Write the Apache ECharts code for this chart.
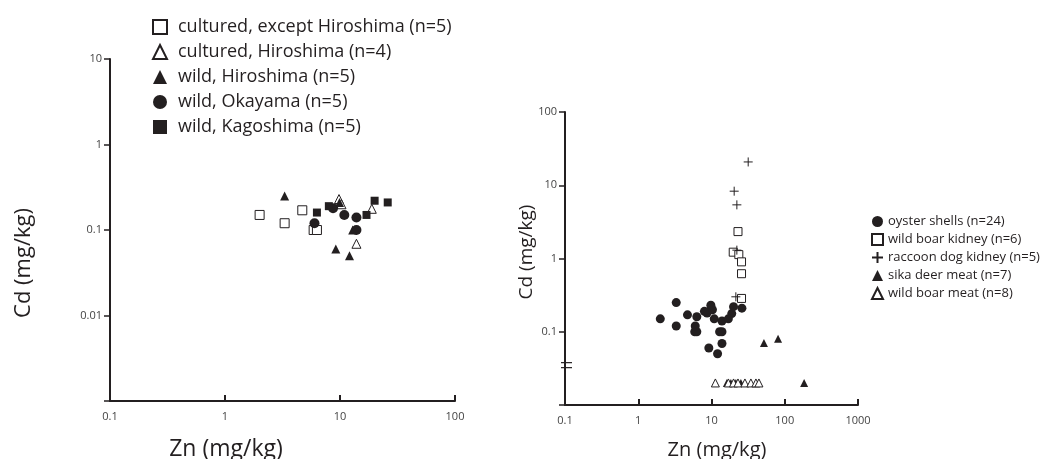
<!DOCTYPE html>
<html lang="en">
  <head>
    <meta charset="UTF-8" />
    <title>Cd vs Zn</title>
    <script src="https://cdn.jsdelivr.net/npm/echarts@6/dist/echarts.min.js"></script>
  </head>
  <body style="margin: 0; background: #fff">
    <div id="chart" style="width: 1046px; height: 459px"></div>

    <script type="text/javascript">
      // left panel: oyster shells by origin, [Zn, Cd] in mg/kg
      const culturedExceptHiroshima = [[2.0, 0.15], [3.3, 0.12], [4.7, 0.17], [5.9, 0.1], [6.3, 0.1]];
      const culturedHiroshima = [[9.8, 0.23], [18.9, 0.177], [13.9, 0.069], [10.3, 0.2]];
      const wildHiroshima = [[3.3, 0.25], [9.9, 0.21], [9.2, 0.06], [12.1, 0.05], [12.9, 0.1]];
      const wildOkayama = [[6.0, 0.12], [8.7, 0.18], [10.9, 0.15], [13.9, 0.14], [13.9, 0.1]];
      const wildKagoshima = [[6.3, 0.16], [8.0, 0.19], [17, 0.15], [20, 0.22], [26, 0.21]];

      // right panel: animal tissues, [Zn, Cd] in mg/kg (0.02 = below detection)
      const oysterShells = [].concat(culturedExceptHiroshima, culturedHiroshima, wildHiroshima, wildOkayama, wildKagoshima);
      const boarKidney = [[23, 2.33], [19.8, 1.22], [23.6, 1.13], [25.7, 0.9], [25.7, 0.62], [25.7, 0.285]];
      const raccoonKidney = [[31.7, 20.8], [20.4, 8.3], [22.2, 5.4], [22.2, 1.3], [21.5, 0.3]];
      const sikaMeat = [[52, 0.07], [81, 0.08], [184, 0.02], [16.2, 0.02], [18.4, 0.02], [21.5, 0.02], [25.2, 0.02]];
      const boarMeat = [[11.3, 0.02], [17, 0.02], [20, 0.02], [23, 0.02], [28.6, 0.02], [34.5, 0.02], [40.4, 0.02], [44.4, 0.02]];

      const leftNames = [
        "cultured, except Hiroshima (n=5)",
        "cultured, Hiroshima (n=4)",
        "wild, Hiroshima (n=5)",
        "wild, Okayama (n=5)",
        "wild, Kagoshima (n=5)",
      ];
      const rightNames = [
        "oyster shells (n=24)",
        "wild boar kidney (n=6)",
        "raccoon dog kidney (n=5)",
        "sika deer meat (n=7)",
        "wild boar meat (n=8)",
      ];

      const ink = "#231f20";
      const font = "'Open Sans', sans-serif";
      const plus = "path://M5 0V10M0 5H10";

      const chart = echarts.init(document.getElementById("chart"));

      function logLabel(min) {
        return (v) => {
          if (Math.abs(Math.log10(v) - Math.log10(min)) < 1e-6) return "";
          return String(parseFloat(v.toPrecision(3)));
        };
      }

      function xAxis(grid, min, max) {
        return {
          type: "log", logBase: 10, gridIndex: grid, min: min, max: max,
          axisLine: { lineStyle: { color: ink, width: 2 } },
          axisTick: { inside: true, length: 6, lineStyle: { color: ink, width: 2 } },
          axisLabel: { color: "#444", fontSize: 11, fontFamily: font, margin: 10,
            formatter: (v) => String(parseFloat(v.toPrecision(3))) },
          splitLine: { show: false },
        };
      }

      function yAxis(grid, min, max) {
        return {
          type: "log", logBase: 10, gridIndex: grid, min: min, max: max,
          axisLine: { lineStyle: { color: ink, width: 2 } },
          axisTick: { length: 6, lineStyle: { color: ink, width: 1.5 } },
          axisLabel: { color: "#444", fontSize: 11, fontFamily: font, margin: 8, formatter: logLabel(min) },
          splitLine: { show: false },
        };
      }

      function scatter(name, data, symbol, size, open, axis) {
        return {
          name: name, type: "scatter", data: data,
          xAxisIndex: axis, yAxisIndex: axis,
          symbol: symbol, symbolSize: size,
          itemStyle: open
            ? { color: symbol === plus ? "transparent" : "#fff", borderColor: ink, borderWidth: 1, opacity: 1 }
            : { color: ink, opacity: 1 },
          emphasis: { disabled: true },
        };
      }

      chart.setOption({
        animation: false,
        grid: [
          { left: 110, top: 59, width: 345, height: 342 },
          { left: 565, top: 112, width: 293, height: 293 },
        ],
        xAxis: [xAxis(0, 0.1, 100), xAxis(1, 0.1, 1000)],
        yAxis: [yAxis(0, 0.001, 10), yAxis(1, 0.01, 100)],
        legend: [
          {
            data: leftNames, orient: "vertical", left: 147, top: 11,
            itemWidth: 14, itemHeight: 14, itemGap: 3, selectedMode: false,
            textStyle: { color: ink, fontSize: 18, lineHeight: 22, fontFamily: font, padding: [0, 0, 0, 6] },
          },
          {
            data: rightNames, orient: "vertical", left: 866, top: 209,
            itemWidth: 11, itemHeight: 11, itemGap: 3, selectedMode: false,
            textStyle: { color: ink, fontSize: 13, lineHeight: 15, fontFamily: font },
          },
        ],
        series: [
          scatter(leftNames[0], culturedExceptHiroshima, "rect", 9, true, 0),
          scatter(leftNames[1], culturedHiroshima, "triangle", 9, true, 0),
          scatter(leftNames[2], wildHiroshima, "triangle", 9, false, 0),
          scatter(leftNames[3], wildOkayama, "circle", 10, false, 0),
          scatter(leftNames[4], wildKagoshima, "rect", 8, false, 0),
          scatter(rightNames[0], oysterShells, "circle", 9, false, 1),
          scatter(rightNames[1], boarKidney, "rect", 8, true, 1),
          scatter(rightNames[2], raccoonKidney, plus, 9, true, 1),
          scatter(rightNames[3], sikaMeat, "triangle", 8, false, 1),
          scatter(rightNames[4], boarMeat, "triangle", 8, true, 1),
        ],
      });

      // axis titles and the break marks on the right y axis
      const brk = chart.convertToPixel({ gridIndex: 1 }, [0.1, 0.035]);
      chart.setOption({
        graphic: [
          { type: "text", x: 226, y: 449, style: { text: "Zn (mg/kg)", font: "23px " + font, fill: ink, align: "center", verticalAlign: "middle" } },
          { type: "text", x: 24, y: 263, rotation: Math.PI / 2, style: { text: "Cd (mg/kg)", font: "22px " + font, fill: ink, align: "center", verticalAlign: "middle" } },
          { type: "text", x: 717, y: 450, style: { text: "Zn (mg/kg)", font: "20px " + font, fill: ink, align: "center", verticalAlign: "middle" } },
          { type: "text", x: 527, y: 252, rotation: Math.PI / 2, style: { text: "Cd (mg/kg)", font: "19px " + font, fill: ink, align: "center", verticalAlign: "middle" } },
          { type: "line", shape: { x1: brk[0] - 4, y1: brk[1] - 2.5, x2: brk[0] + 7, y2: brk[1] - 2.5 }, style: { stroke: ink, lineWidth: 1.2 } },
          { type: "line", shape: { x1: brk[0] - 4, y1: brk[1] + 2.5, x2: brk[0] + 7, y2: brk[1] + 2.5 }, style: { stroke: ink, lineWidth: 1.2 } },
        ],
      });
    </script>
  </body>
</html>
